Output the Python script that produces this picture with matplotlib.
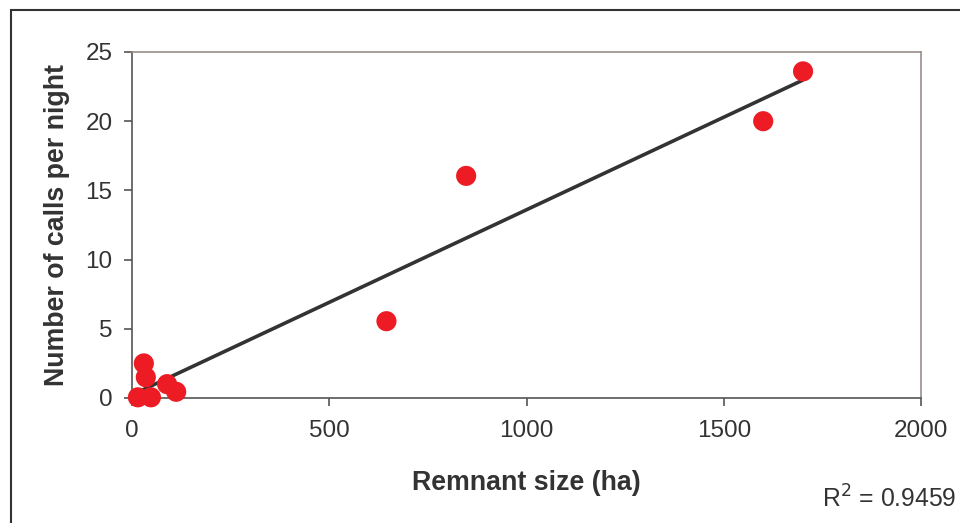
import numpy as np
import matplotlib.pyplot as plt
from matplotlib.patches import Rectangle

plt.rcParams['font.family'] = ['Liberation Sans', 'DejaVu Sans']

# Datos: tamaño del remanente (ha) y número de llamadas por noche
remnant_size = [15, 48, 30, 35, 89, 112, 645, 847, 1600, 1701]
calls_per_night = [0.05, 0.05, 2.5, 1.5, 1.0, 0.45, 5.55, 16.05, 20.0, 23.6]
r2_text = 'R$^2$ = 0.9459'

x = np.array(remnant_size)
y = np.array(calls_per_night)
slope, intercept = np.polyfit(x, y, 1)
x_line = np.array([x.min(), x.max()])

fig = plt.figure(figsize=(9.6, 5.23), dpi=100)
ax = fig.add_axes([132 / 960, 1 - 398 / 523, (921 - 132) / 960, (398 - 52) / 523])

ax.plot(x_line, slope * x_line + intercept, color='#333333', lw=2.6, zorder=3,
        solid_capstyle='butt')
ax.scatter(x, y, s=210, color='#ED1C24', edgecolors='none', zorder=4, clip_on=False)

ax.set_xlim(0, 2000)
ax.set_ylim(0, 25)
ax.set_xticks([0, 500, 1000, 1500, 2000])
ax.set_yticks([0, 5, 10, 15, 20, 25])

for side in ['top', 'right']:
    ax.spines[side].set_color('#9a8f8b')
    ax.spines[side].set_linewidth(1.2)
for side in ['left', 'bottom']:
    ax.spines[side].set_color('#555555')
    ax.spines[side].set_linewidth(1.2)

ax.tick_params(axis='both', direction='out', length=6, width=1.2, color='#555555',
               labelsize=17.5, labelcolor='#333333')
ax.tick_params(axis='y', pad=8)
ax.tick_params(axis='x', pad=10)

ax.set_xlabel('Remnant size (ha)', fontsize=19.3, fontweight='bold', color='#333333',
              labelpad=20)
ax.set_ylabel('Number of calls per night', fontsize=19.3, fontweight='bold',
              color='#333333', labelpad=11)

fig.text(822 / 960, 1 - 499 / 523, r2_text, fontsize=17.8, color='#333333',
         va='center', ha='left')

# Marco exterior
fig.patches.append(Rectangle((11 / 960, -0.1), 2, (523 - 10) / 523 + 0.1,
                             transform=fig.transFigure, fill=False,
                             edgecolor='#333333', lw=1.5))

fig.savefig('out.png', dpi=100)
